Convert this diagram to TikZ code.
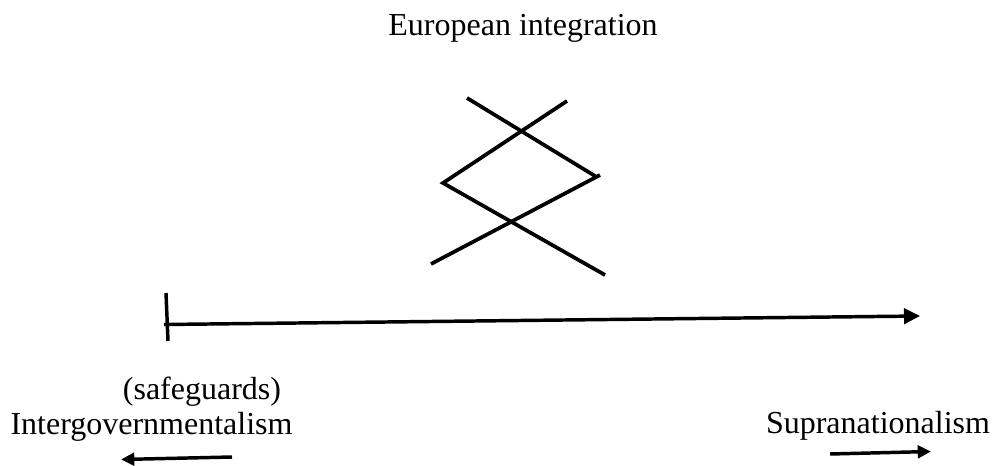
\documentclass[tikz,border=0pt]{standalone}
\usepackage{fontspec}
\setmainfont{Liberation Serif}
\usetikzlibrary{arrows.meta}
\begin{document}
\begin{tikzpicture}[x=0.75pt,y=-0.75pt,
  lbl/.style={inner sep=0pt,anchor=base,font=\fontsize{24pt}{28pt}\selectfont},
  stroke/.style={line width=2.8pt},
  axis/.style={line width=2.6pt,-{Triangle[length=12pt,width=11.5pt]}},
  small/.style={line width=2.6pt,-{Triangle[length=10pt,width=9.5pt]}}]
\useasboundingbox (0,0) rectangle (995,466);
% title
\node[lbl] (title) at (523,36) {European integration};
% zigzag X shape
\coordinate (a1) at (467,98);
\coordinate (a2) at (595,176);
\coordinate (b1) at (567,101);
\coordinate (b2) at (443,183);
\coordinate (c2) at (605,275);
\coordinate (d1) at (600,175);
\coordinate (d2) at (431,264);
\draw[stroke] (a1) -- (a2);
\draw[stroke,line join=miter] (b1) -- (b2) -- (c2);
\draw[stroke] (d1) -- (d2);
% axis
\coordinate (t1) at (166,293);
\coordinate (t2) at (168,341);
\draw[line width=2.6pt] (t1) -- (t2);
\coordinate (s) at (164,324.5);
\coordinate (e) at (920,316);
\draw[axis] (s) -- (e);
% labels
\node[lbl] (safe) at (202,399) {(safeguards)};
\node[lbl] (inter) at (151.5,434) {Intergovernmentalism};
\node[lbl] (supra) at (878,433) {Supranationalism};
% small arrows
\coordinate (l1) at (232,457);
\coordinate (l2) at (121,459.5);
\draw[small] (l1) -- (l2);
\coordinate (r1) at (830,454);
\coordinate (r2) at (931,451.5);
\draw[small] (r1) -- (r2);
\end{tikzpicture}
\end{document}
